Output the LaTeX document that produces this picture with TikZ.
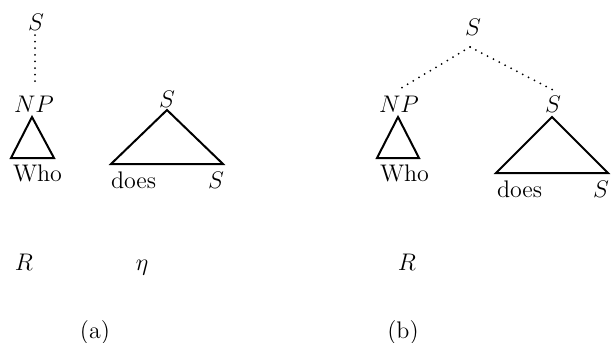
\documentclass[tikz,border=0pt]{standalone}
\begin{document}
\begin{tikzpicture}[x=0.5pt,y=-0.5pt,
  every node/.style={inner sep=0pt, outer sep=0pt, font=\fontsize{12}{14}\selectfont},
  lbl/.style={anchor=base},
  tri/.style={line width=1pt, line join=miter},
  dots/.style={line width=1pt, line cap=round, dash pattern=on 0pt off 3.3pt}]
\useasboundingbox (0,0) rectangle (611,343);
% ---- panel (a)
\node[lbl] (aS) at (36,30) {$S$};
\node[lbl] (aNP) at (34,112) {$NP$};
\coordinate (aSd) at (35,35);
\coordinate (aNPu) at (35,84);
\draw[dots] (aSd) -- (aNPu);
\coordinate (aT1) at (32,117);
\coordinate (aT2) at (11,158);
\coordinate (aT3) at (54,158);
\draw[tri] (aT1) -- (aT2) -- (aT3) -- cycle;
\node[lbl, anchor=base west] (aWho) at (13,181) {Who};
\node[lbl] (eS) at (167,107) {$S$};
\coordinate (eT1) at (167,110);
\coordinate (eT2) at (111,164);
\coordinate (eT3) at (223,164);
\draw[tri] (eT1) -- (eT2) -- (eT3) -- cycle;
\node[lbl, anchor=base west] (edoes) at (111,188) {does};
\node[lbl] (eSb) at (216,188) {$S$};
\node[lbl] (aR) at (24,270) {$R$};
\node[lbl] (eta) at (142,270) {$\eta$};
\node[lbl] (capa) at (95,338) {(a)};
% ---- panel (b)
\node[lbl] (bS) at (473,35) {$S$};
\node[lbl] (bNP) at (399,112) {$NP$};
\node[lbl] (bS2) at (553,112) {$S$};
\coordinate (bTop) at (470,47);
\coordinate (bL) at (398,90);
\coordinate (bR) at (553,90);
\draw[dots] (bTop) -- (bL);
\draw[dots] (bTop) -- (bR);
\coordinate (bT1) at (398,117);
\coordinate (bT2) at (377,158);
\coordinate (bT3) at (419,158);
\draw[tri] (bT1) -- (bT2) -- (bT3) -- cycle;
\node[lbl, anchor=base west] (bWho) at (380,181) {Who};
\coordinate (cT1) at (552,117);
\coordinate (cT2) at (496,173);
\coordinate (cT3) at (608,173);
\draw[tri] (cT1) -- (cT2) -- (cT3) -- cycle;
\node[lbl, anchor=base west] (bdoes) at (497,197) {does};
\node[lbl] (bSb) at (601,197) {$S$};
\node[lbl] (bR2) at (407,270) {$R$};
\node[lbl] (capb) at (403,338) {(b)};
\end{tikzpicture}
\end{document}
